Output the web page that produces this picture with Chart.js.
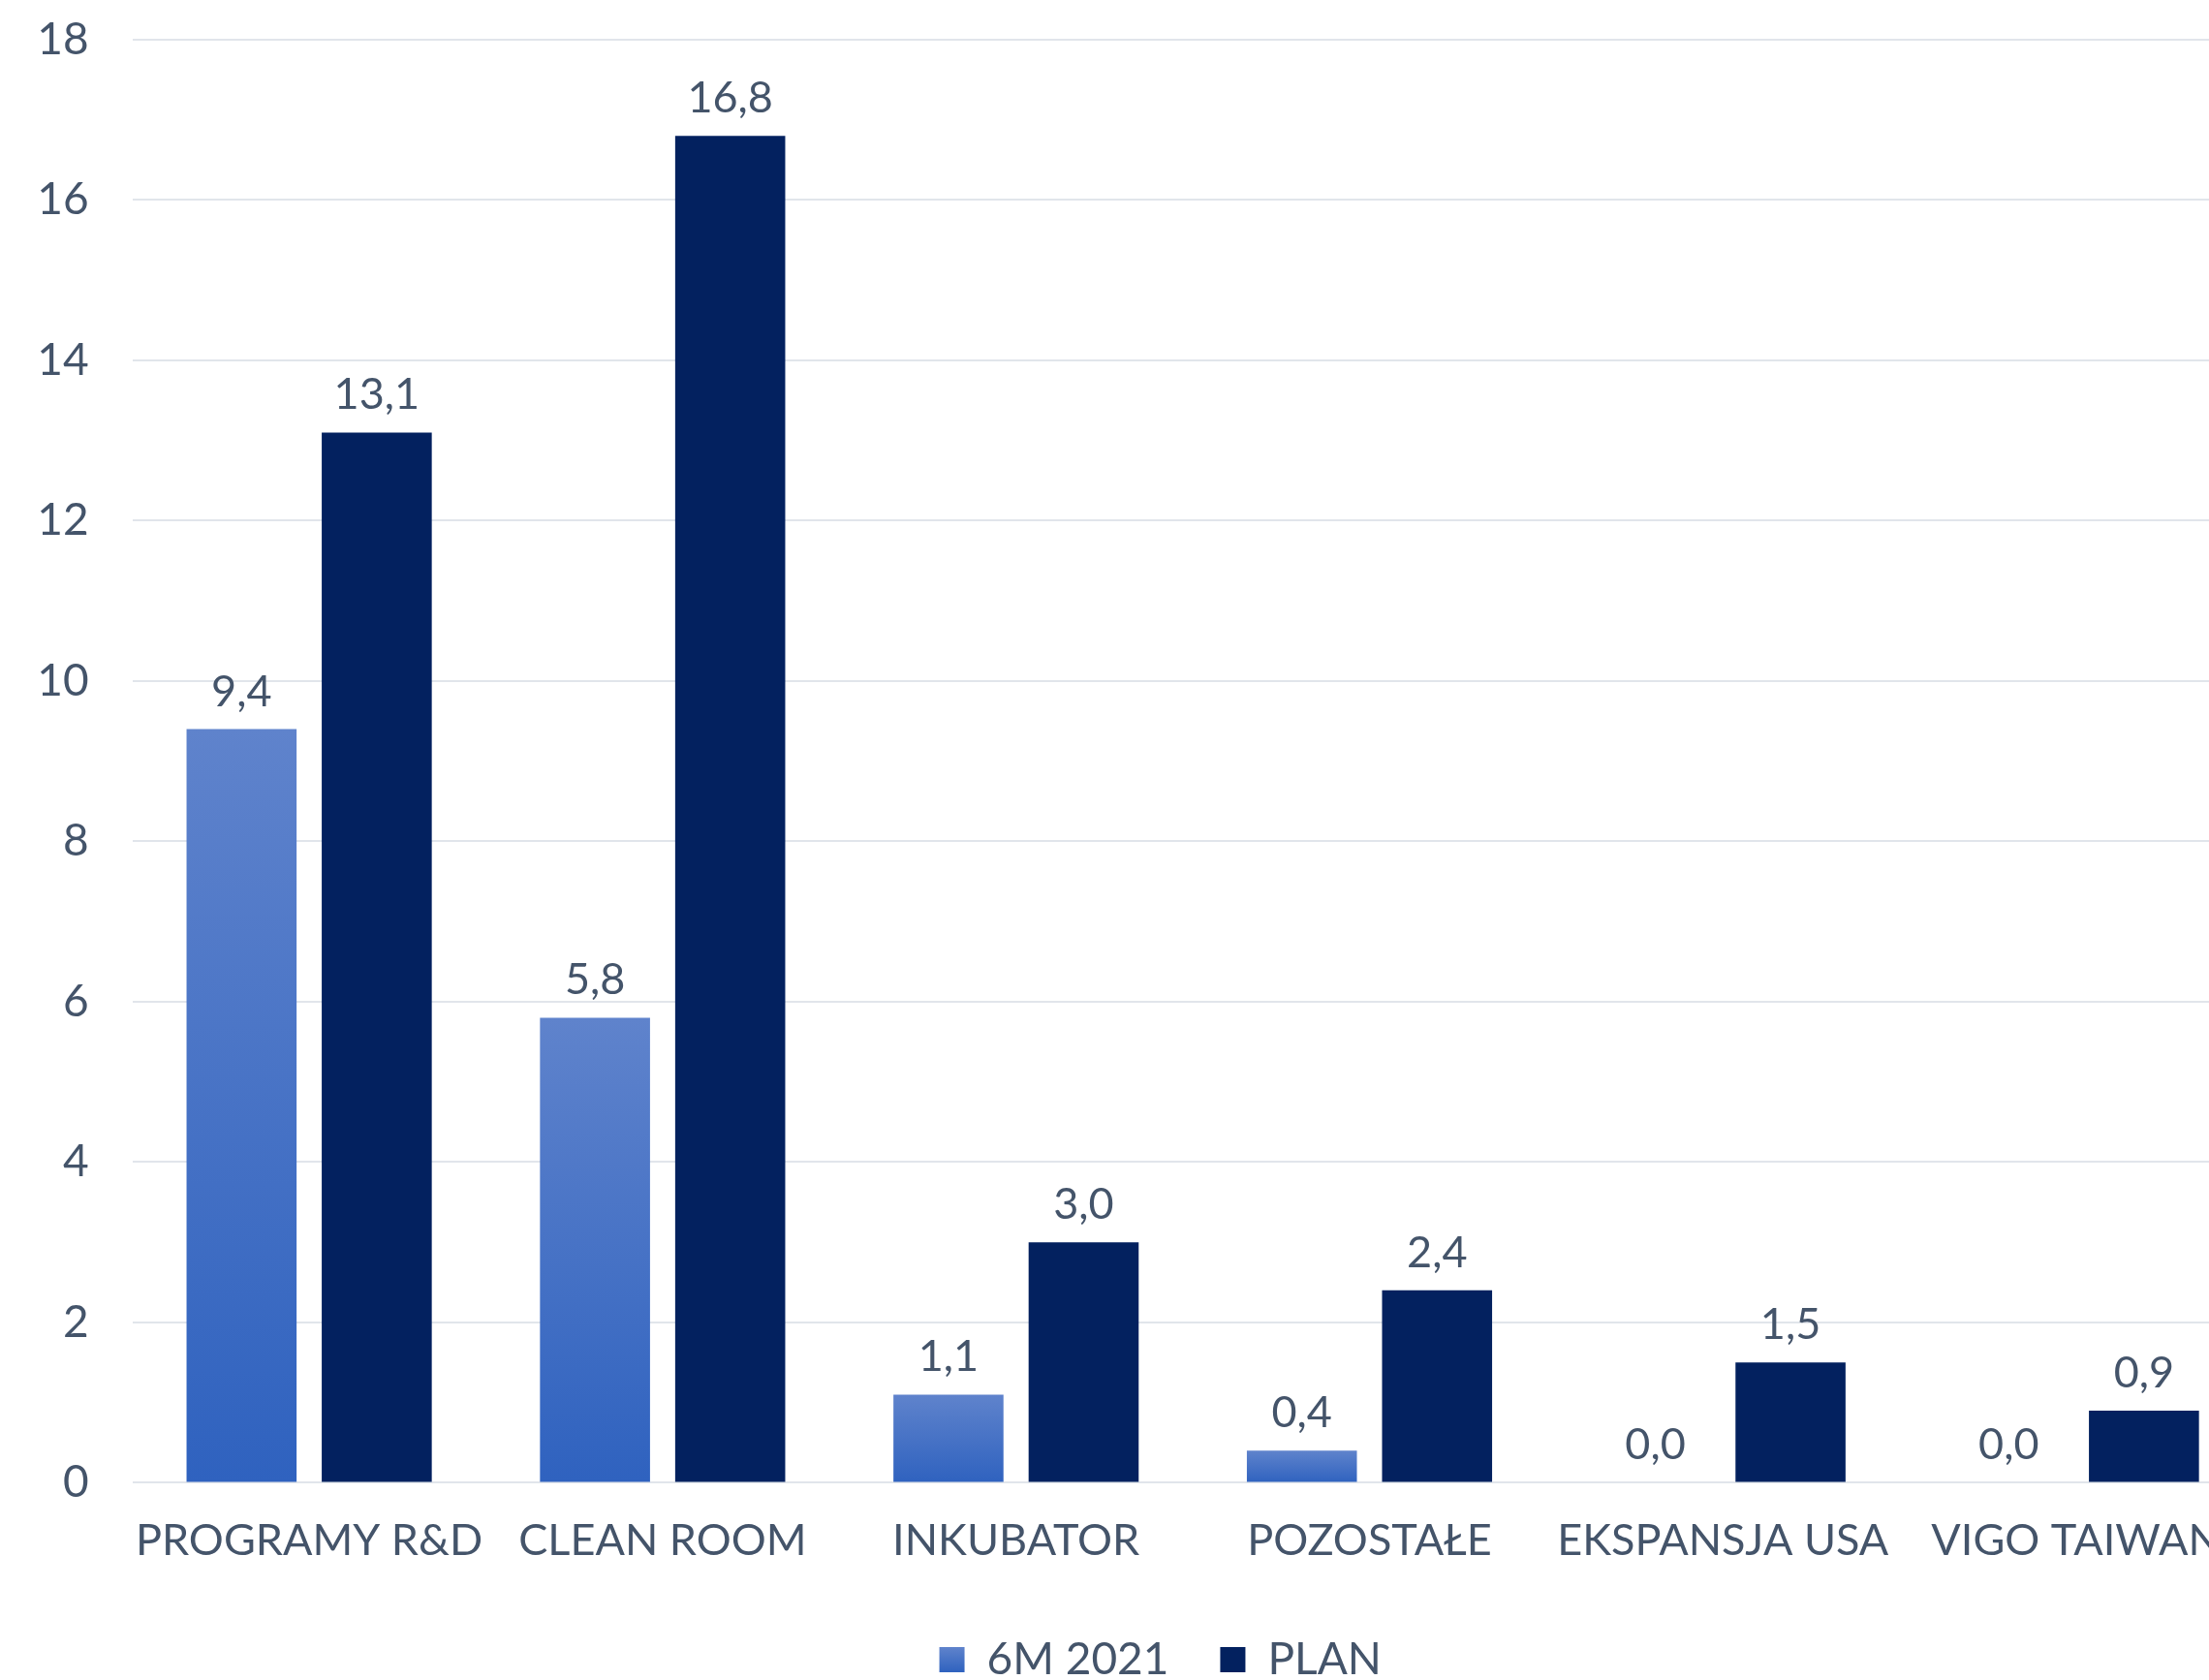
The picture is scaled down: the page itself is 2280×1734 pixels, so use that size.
<!DOCTYPE html>
<html lang="pl">
<head>
  <meta charset="UTF-8" />
  <title>Wydatki inwestycyjne</title>
  <script src="https://cdn.jsdelivr.net/npm/chart.js@4.4.0"></script>
  <style>
    html, body { margin: 0; padding: 0; background: #fff; overflow: hidden; }
    .frame { width: 2280px; height: 1734px; overflow: hidden; position: relative; }
    canvas { display: block; }
  </style>
</head>
<body>
  <div class="frame">
    <canvas id="capexChart" width="2340" height="1746"></canvas>
  </div>

  <script>
    const categories = ['PROGRAMY R&D', 'CLEAN ROOM', 'INKUBATOR', 'POZOSTAŁE', 'EKSPANSJA USA', 'VIGO TAIWAN'];
    const actual6m = [9.4, 5.8, 1.1, 0.4, 0.0, 0.0];
    const planned = [13.1, 16.8, 3.0, 2.4, 1.5, 0.9];
    const yTicks = { min: 0, max: 18, step: 2 };

    const textColor = '#44546a';
    const fontFamily = 'Lato, "Open Sans", sans-serif';
    const lightBlue = '#5f83cc', midBlue = '#2f62bf';

    // light-to-dark gradient for each "6M 2021" bar
    function barGradient(context) {
      const chart = context.chart;
      const { chartArea, scales } = chart;
      if (!chartArea || context.type !== 'data') return '#4873c7';
      const top = scales.y.getPixelForValue(context.raw);
      const bottom = scales.y.getPixelForValue(0);
      if (bottom - top < 1) return '#4873c7';
      const g = chart.ctx.createLinearGradient(0, top, 0, bottom);
      g.addColorStop(0, lightBlue);
      g.addColorStop(1, midBlue);
      return g;
    }

    // values above bars, Polish decimal comma
    const barValues = {
      id: 'barValues',
      afterDatasetsDraw(chart) {
        const ctx = chart.ctx;
        ctx.save();
        ctx.font = `45px ${fontFamily}`;
        ctx.fillStyle = textColor;
        ctx.textAlign = 'center';
        ctx.textBaseline = 'alphabetic';
        chart.data.datasets.forEach((ds, i) => {
          chart.getDatasetMeta(i).data.forEach((bar, j) => {
            const txt = ds.data[j].toFixed(1).replace('.', ',');
            ctx.fillText(txt, bar.x, bar.y - 24);
          });
        });
        ctx.restore();
      }
    };

    // the legend sits a little right of the canvas centre in the original
    const legendShift = {
      id: 'legendShift',
      afterLayout(chart) {
        chart.legend.left += 35;
        chart.legend.right += 35;
      }
    };

    new Chart(document.getElementById('capexChart'), {
      type: 'bar',
      data: {
        labels: categories,
        datasets: [
          {
            label: '6M 2021',
            data: actual6m,
            backgroundColor: barGradient,
            categoryPercentage: 0.765,
            barPercentage: 0.814
          },
          {
            label: 'PLAN',
            data: planned,
            backgroundColor: '#03215f',
            categoryPercentage: 0.765,
            barPercentage: 0.814
          }
        ]
      },
      options: {
        responsive: false,
        animation: false,
        layout: { autoPadding: false, padding: { top: 41, right: 14.5, bottom: 0, left: 0 } },
        plugins: {
          tooltip: { enabled: false },
          legend: {
            position: 'bottom',
            labels: {
              color: textColor,
              font: { family: fontFamily, size: 46 },
              boxWidth: 26,
              boxHeight: 26,
              padding: 53,
              generateLabels(chart) {
                const items = Chart.defaults.plugins.legend.labels.generateLabels(chart);
                const lg = chart.legend;
                if (lg && Number.isFinite(lg.top)) {
                  const y0 = lg.top + 53 + 10;
                  const g = chart.ctx.createLinearGradient(0, y0, 0, y0 + 26);
                  g.addColorStop(0, lightBlue);
                  g.addColorStop(1, midBlue);
                  items[0].fillStyle = g;
                }
                return items;
              }
            }
          }
        },
        scales: {
          x: {
            grid: { display: false },
            border: { display: false },
            ticks: {
              color: textColor,
              font: { family: fontFamily, size: 45 },
              padding: 25.5,
              maxRotation: 0,
              autoSkip: false
            },
            afterFit(scale) { scale.height -= 6.4; }
          },
          y: {
            min: yTicks.min,
            max: yTicks.max,
            border: { display: false },
            grid: { color: '#e1e5eb', lineWidth: 2, drawTicks: true, tickLength: 45, tickColor: 'transparent' },
            ticks: {
              stepSize: yTicks.step,
              color: textColor,
              font: { family: fontFamily, size: 46 },
              padding: 0
            },
            afterFit(scale) { scale.width = 136.7; }
          }
        }
      },
      plugins: [barValues, legendShift]
    });
  </script>
</body>
</html>
